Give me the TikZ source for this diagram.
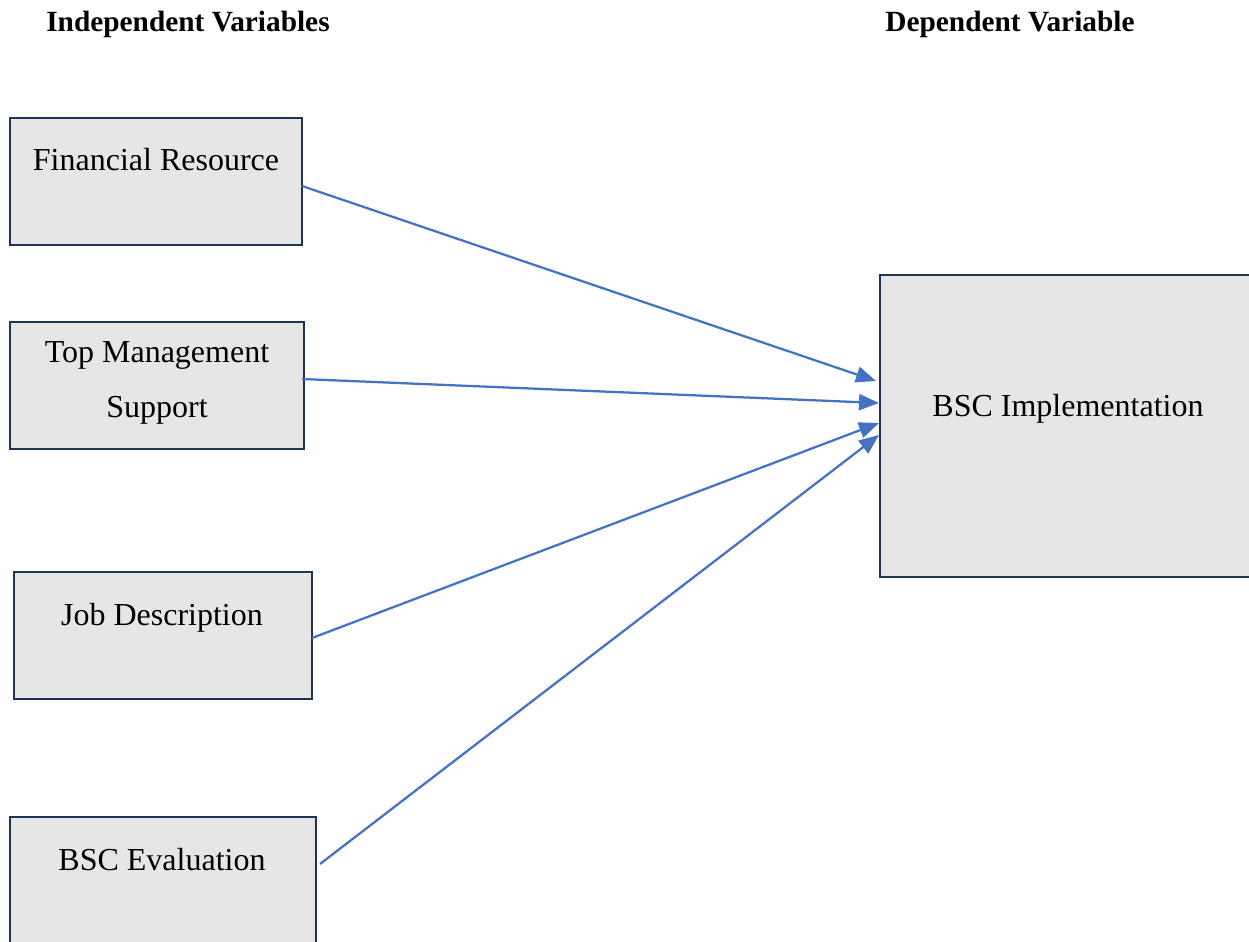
\documentclass[tikz,border=0pt]{standalone}
\usepackage{fontspec}
\setmainfont{Liberation Serif}
\usetikzlibrary{arrows.meta}
\definecolor{boxfill}{HTML}{E6E6E6}
\definecolor{boxline}{HTML}{1F3357}
\definecolor{arrowblue}{HTML}{4472C4}
\begin{document}
\begin{tikzpicture}[x=0.375pt,y=-0.375pt,
  varbox/.style={draw=boxline,fill=boxfill,line width=1.0pt},
  boxtext/.style={anchor=base,inner sep=0pt,align=center,font=\fontsize{12}{20.7}\selectfont},
  title/.style={anchor=base,inner sep=0pt,font=\fontsize{11}{13}\selectfont\bfseries},
  link/.style={draw=arrowblue,line width=0.85pt,-{Triangle[length=7.5pt,width=6pt]}}]
\useasboundingbox (0,0) rectangle (1249,942);
\clip (0,0) rectangle (1249,942);
% titles
\node[title] (tIndep) at (188,31) {Independent Variables};
\node[title] (tDep) at (1010,31) {Dependent Variable};
% boxes
\draw[varbox] (10,118) rectangle (302,245);
\draw[varbox] (10,322) rectangle (304,449);
\draw[varbox] (14,572) rectangle (312,699);
\draw[varbox] (10,817) rectangle (316,960);
\draw[varbox] (880,275) rectangle (1270,577);
% texts
\node[boxtext] (fin) at (156,171) {Financial Resource};
\node[boxtext] (top) at (157,418) {Top Management\\Support};
\node[boxtext] (job) at (162,625) {Job Description};
\node[boxtext] (eval) at (162,870) {BSC Evaluation};
\node[boxtext] (impl) at (1068,416) {BSC Implementation};
% connector endpoints
\coordinate (s1) at (302,186);
\coordinate (s2) at (302,379);
\coordinate (s3) at (312,638);
\coordinate (s4) at (320,864);
\coordinate (e1) at (876,381);
\coordinate (e2) at (879,403);
\coordinate (e3) at (879,423);
\coordinate (e4) at (879,435);
\draw[link] (s1) -- (e1);
\draw[link] (s2) -- (e2);
\draw[link] (s3) -- (e3);
\draw[link] (s4) -- (e4);
\end{tikzpicture}
\end{document}
